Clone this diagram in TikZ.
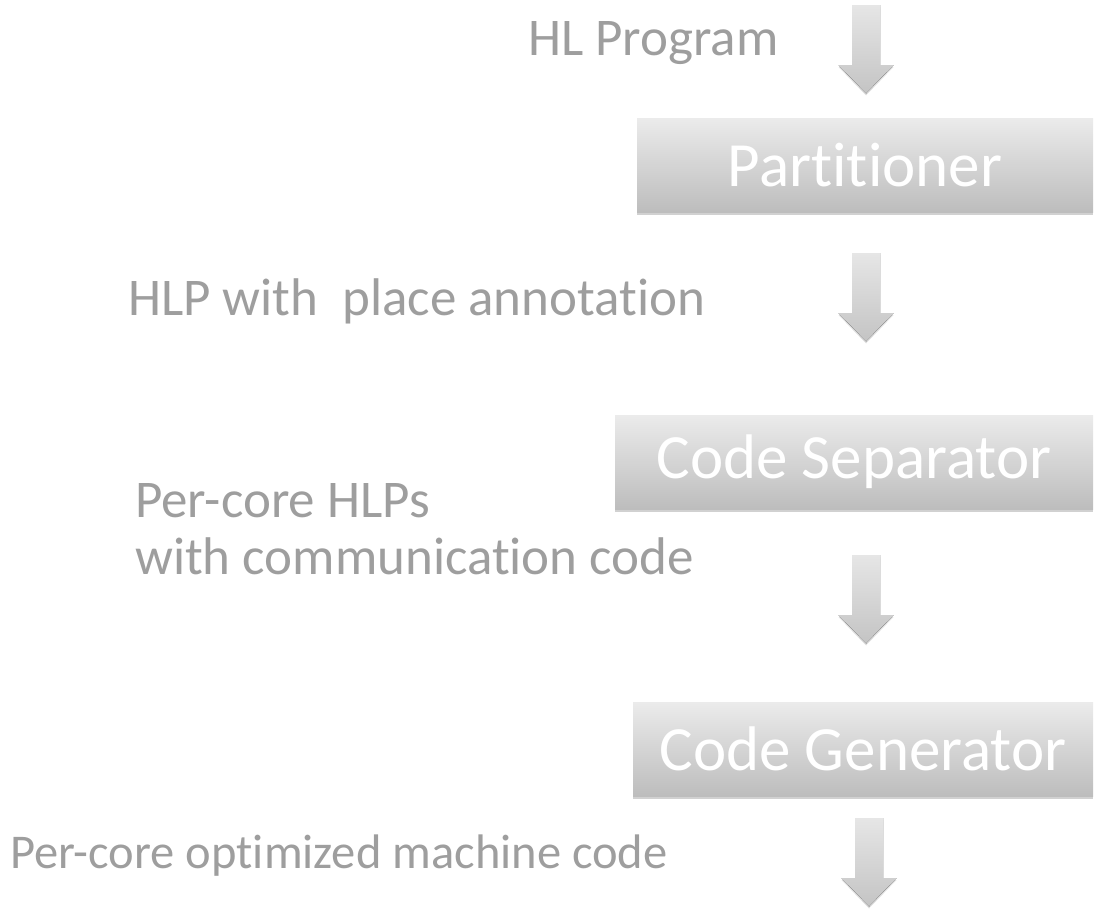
\documentclass[tikz,border=0pt]{standalone}
\usepackage{fontspec}
\setmainfont{Carlito}[Ligatures={NoCommon,NoRare,NoContextual}]
\usetikzlibrary{shadows}

\definecolor{notegray}{HTML}{9E9E9E}
\definecolor{boxtop}{HTML}{EBEBEB}
\definecolor{boxbottom}{HTML}{BDBDBD}
\definecolor{arrowtop}{HTML}{E6E6E6}
\definecolor{arrowbottom}{HTML}{C4C4C4}

\begin{document}
\begin{tikzpicture}[
    x=1pt, y=-1pt,
    stage/.style={rectangle, top color=boxtop, bottom color=boxbottom,
      text=white, font=\fontsize{63}{63}\selectfont, inner sep=0pt,
      minimum height=94pt,
      drop shadow={shadow xshift=0pt, shadow yshift=-3pt, opacity=0.3, fill=black!60}},
    note/.style={text=notegray, font=\fontsize{53}{57}\selectfont,
      anchor=base west, align=left, inner sep=0pt},
    flowarrow/.pic={
      \fill[top color=arrowtop, bottom color=arrowbottom,
        drop shadow={shadow xshift=0pt, shadow yshift=-2pt, opacity=0.25, fill=black!50}]
        (-14,0) -- (14,0) -- (14,60) -- (27.5,60) -- (0,88.5) -- (-27.5,60) -- (-14,60) -- cycle;
    }
]
  % page frame
  \useasboundingbox (0,0) rectangle (1095,910);

  % stages
  \node[stage, minimum width=456pt] (partitioner) at (865,165) {Partitioner};
  \node[stage, minimum width=478pt] (separator) at (854,462) {Code Separator};
  \node[stage, minimum width=460pt] (generator) at (863,749) {Code Generator};

  % block arrows
  \pic at (866,5) {flowarrow};
  \pic at (866,253) {flowarrow};
  \pic at (866,555) {flowarrow};
  \pic at (869,818) {flowarrow};

  % what flows between the stages
  \node[note] (hlprog) at (528,55) {HL Program};
  \node[note] (annotated) at (128,315) {HLP with\ \ place annotation};
  \node[note] (percore) at (135,574) {Per-core HLPs\\with communication code};
  \node[note, font=\fontsize{48.5}{57}\selectfont] (machine) at (10,868) {Per-core optimized machine code};
\end{tikzpicture}
\end{document}
